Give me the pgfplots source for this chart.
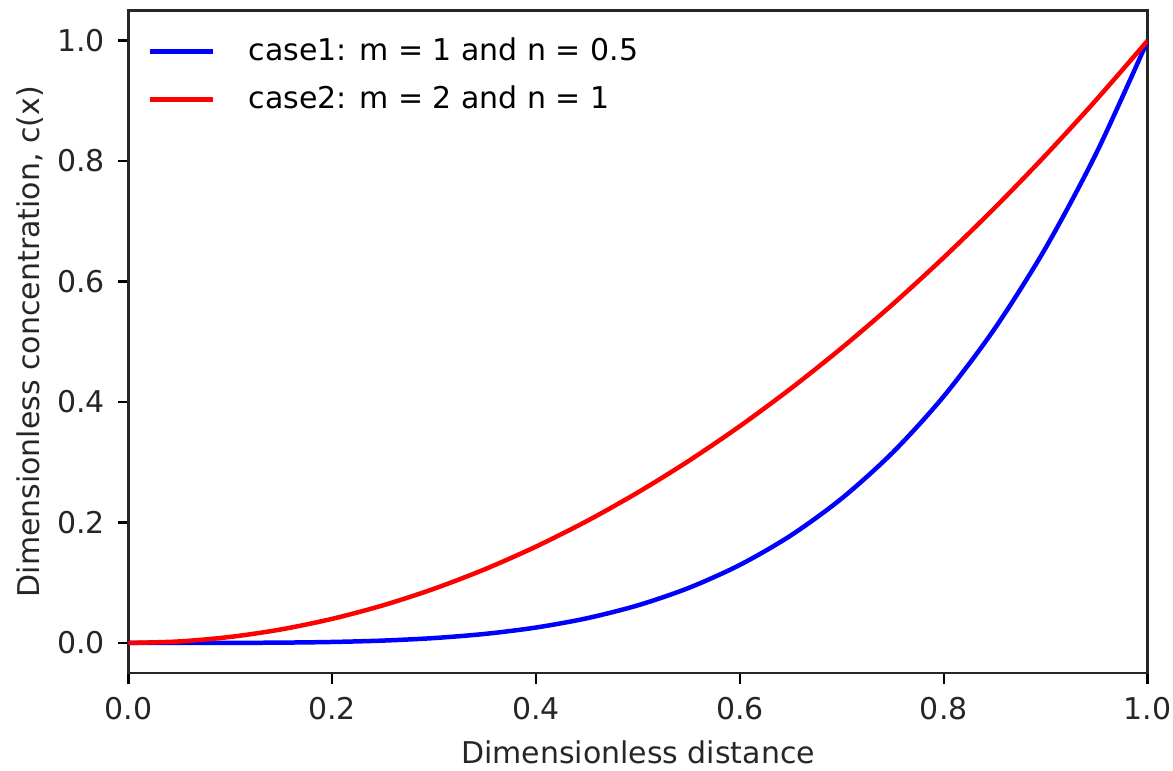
\documentclass[border=0pt]{standalone}
\usepackage{fontspec}
\setmainfont{DejaVu Sans}
\usepackage{pgfplots}
\pgfplotsset{compat=1.18}

\pgfplotstableread{
x     c1         c2
0.00  0.000000   0.0000
0.05  0.000006   0.0025
0.10  0.000100   0.0100
0.15  0.000506   0.0225
0.20  0.001600   0.0400
0.25  0.003906   0.0625
0.30  0.008100   0.0900
0.35  0.015006   0.1225
0.40  0.025600   0.1600
0.45  0.041006   0.2025
0.50  0.062500   0.2500
0.55  0.091506   0.3025
0.60  0.129600   0.3600
0.65  0.178506   0.4225
0.70  0.240100   0.4900
0.75  0.316406   0.5625
0.80  0.409600   0.6400
0.85  0.522006   0.7225
0.90  0.656100   0.8100
0.95  0.814506   0.9025
1.00  1.000000   1.0000
}\conc

\begin{document}
\begin{tikzpicture}
\begin{axis}[
    scale only axis,
    width=340pt, height=221pt,
    xmin=0, xmax=1,
    ymin=-0.05, ymax=1.05,
    xtick={0,0.2,...,1.0},
    ytick={0,0.2,...,1.0},
    /pgf/number format/assume math mode=true,
    /pgf/number format/.cd, fixed, fixed zerofill, precision=1, /pgfplots/.cd,
    tick label style={font=\fontsize{10}{12}\selectfont, text=black!85},
    xticklabel style={inner xsep=0.5pt, yshift=-1.2pt},
    yticklabel style={xshift=-0.8pt},
    label style={font=\fontsize{10}{12}\selectfont, text=black!85},
    xlabel={Dimensionless distance},
    ylabel={Dimensionless concentration, c(x)},
    xlabel style={at={(axis description cs:0.5,-0.1371)}, anchor=base, inner ysep=2pt},
    ylabel style={at={(axis description cs:-0.1265,0.5)}, anchor=north, inner ysep=5.7pt},
    title={\phantom{x}},
    every axis title/.style={at={(axis description cs:0.5,1)}, anchor=south,
        inner sep=0pt, text height=3.3pt, text depth=0pt},
    tick align=outside,
    major tick length=3.5pt,
    tick style={black, line width=0.8pt},
    axis line style={black!85, line width=0.8pt},
    xtick pos=bottom, ytick pos=left,
    legend cell align=left,
    legend style={draw=none, fill=none, at={(0,1)}, anchor=north west,
        xshift=3.4pt, yshift=-5pt,
        font=\fontsize{10}{12}\selectfont,
        row sep=2.9pt, column sep=6pt,
        nodes={inner xsep=5pt}},
    legend image code/.code={\draw[#1] (0pt,0pt) -- (21pt,0pt);},
]
\addplot[blue, line width=1.5pt, smooth] table[x=x, y=c1] {\conc};
\addlegendentry{case1: m = 1 and n = 0.5}
\addplot[red, line width=1.5pt, smooth] table[x=x, y=c2] {\conc};
\addlegendentry{case2: m = 2 and n = 1}
\end{axis}
\end{tikzpicture}
\end{document}
